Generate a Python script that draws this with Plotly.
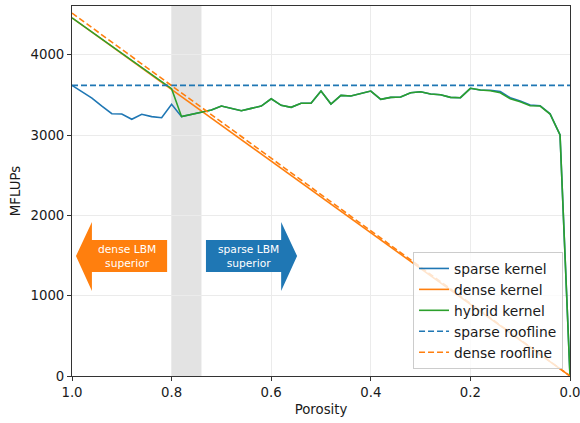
import plotly.graph_objects as go

porosity = [1.00, 0.98, 0.96, 0.94, 0.92, 0.90, 0.88, 0.86, 0.84, 0.82, 0.80,
            0.78, 0.76, 0.74, 0.72, 0.70, 0.68, 0.66, 0.64, 0.62, 0.60,
            0.58, 0.56, 0.54, 0.52, 0.50, 0.48, 0.46, 0.44, 0.42, 0.40,
            0.38, 0.36, 0.34, 0.32, 0.30, 0.28, 0.26, 0.24, 0.22, 0.20,
            0.18, 0.16, 0.14, 0.12, 0.10, 0.08, 0.06, 0.04, 0.02, 0.00]

sparse_kernel = [3620, 3540, 3460, 3360, 3266, 3263, 3197, 3259, 3230, 3217, 3384,
                 3230, 3259, 3292, 3313, 3362, 3333, 3304, 3333, 3362, 3453,
                 3371, 3346, 3396, 3396, 3549, 3387, 3495, 3487, 3520, 3549,
                 3446, 3470, 3474, 3528, 3540, 3512, 3503, 3470, 3466, 3583,
                 3562, 3558, 3542, 3465, 3425, 3375, 3366, 3265, 3001, 0]

dense_kernel = [4460, 4371, 4282, 4192, 4103, 4014, 3925, 3836, 3746, 3657, 3568,
                3479, 3390, 3300, 3211, 3122, 3033, 2944, 2854, 2765, 2676,
                2587, 2498, 2408, 2319, 2230, 2141, 2052, 1962, 1873, 1784,
                1695, 1606, 1516, 1427, 1338, 1249, 1160, 1070, 981, 892,
                803, 714, 624, 535, 446, 357, 268, 178, 89, 0]

hybrid_kernel = [4460, 4371, 4282, 4192, 4103, 4014, 3925, 3836, 3746, 3657, 3578,
                 3230, 3259, 3292, 3313, 3362, 3333, 3304, 3333, 3362, 3453,
                 3371, 3346, 3396, 3396, 3549, 3387, 3495, 3487, 3520, 3549,
                 3446, 3470, 3474, 3528, 3540, 3512, 3503, 3470, 3466, 3583,
                 3562, 3553, 3528, 3453, 3416, 3366, 3362, 3263, 3001, 0]

roofline_x = [1.0, 0.0]
sparse_roofline = [3620, 3620]
dense_roofline = [4520, 0]

band = (0.74, 0.80)
x_ticks = [1.0, 0.8, 0.6, 0.4, 0.2, 0.0]
x_tick_labels = ["1.0", "0.8", "0.6", "0.4", "0.2", "0.0"]
y_ticks = [0, 1000, 2000, 3000, 4000]

BLUE = "#1f77b4"
ORANGE = "#ff7f0e"
GREEN = "#2ca02c"
FS = 13.3

fig = go.Figure()
fig.add_trace(go.Scatter(x=porosity, y=sparse_kernel, mode="lines", name="sparse kernel",
                         line=dict(color=BLUE, width=1.6)))
fig.add_trace(go.Scatter(x=porosity, y=dense_kernel, mode="lines", name="dense kernel",
                         line=dict(color=ORANGE, width=1.6)))
fig.add_trace(go.Scatter(x=porosity, y=hybrid_kernel, mode="lines", name="hybrid kernel",
                         line=dict(color=GREEN, width=1.6)))
fig.add_trace(go.Scatter(x=roofline_x, y=sparse_roofline, mode="lines", name="sparse roofline",
                         line=dict(color=BLUE, width=1.6, dash="6px,3px")))
fig.add_trace(go.Scatter(x=roofline_x, y=dense_roofline, mode="lines", name="dense roofline",
                         line=dict(color=ORANGE, width=1.6, dash="6px,3px")))

# shaded crossover band
fig.add_shape(type="rect", xref="x", yref="paper", x0=band[0], x1=band[1], y0=0, y1=1,
              fillcolor="#e3e3e3", line=dict(width=0), layer="below")

# arrows (data coordinates)
ay_mid, ay_body0, ay_body1, ay_head0, ay_head1 = 1494, 1295, 1694, 1059, 1918
dense_arrow = dict(tip=0.992, base=0.960, end=0.809)
sparse_arrow = dict(tip=0.548, base=0.580, end=0.731)

def arrow_path(a):
    return (f"M {a['end']},{ay_body0} L {a['base']},{ay_body0} L {a['base']},{ay_head0} "
            f"L {a['tip']},{ay_mid} L {a['base']},{ay_head1} L {a['base']},{ay_body1} "
            f"L {a['end']},{ay_body1} Z")

fig.add_shape(type="path", xref="x", yref="y", path=arrow_path(dense_arrow),
              fillcolor=ORANGE, line=dict(width=0))
fig.add_shape(type="path", xref="x", yref="y", path=arrow_path(sparse_arrow),
              fillcolor=BLUE, line=dict(width=0))

fig.add_annotation(x=0.890, y=ay_mid, xref="x", yref="y", text="dense LBM<br>superior",
                   showarrow=False, font=dict(color="white", size=10.7, family="DejaVu Sans"))
fig.add_annotation(x=0.646, y=ay_mid, xref="x", yref="y", text="sparse LBM<br>superior",
                   showarrow=False, font=dict(color="white", size=10.7, family="DejaVu Sans"))

fig.update_layout(
    width=580, height=423,
    margin=dict(l=72, r=10, t=6, b=47, autoexpand=False),
    plot_bgcolor="white", paper_bgcolor="white",
    font=dict(family="DejaVu Sans", size=FS, color="#1a1a1a"),
    showlegend=True,
    legend=dict(x=0.986, y=0.019, xanchor="right", yanchor="bottom",
                bgcolor="rgba(255,255,255,0.8)", bordercolor="#cccccc", borderwidth=1,
                font=dict(size=13.8), itemwidth=30, tracegroupgap=0),
)
fig.update_xaxes(range=[1.0, 0.0], tickvals=x_ticks, ticktext=x_tick_labels,
                 title=dict(text="Porosity", standoff=5, font=dict(size=FS)),
                 tickfont=dict(size=FS), ticklabeloverflow="allow", automargin=False,
                 showline=True, linecolor="#333333", linewidth=1, mirror=True,
                 ticks="outside", ticklen=4, tickcolor="#333333",
                 showgrid=True, gridcolor="#ebebeb", gridwidth=1, zeroline=False)
fig.update_yaxes(range=[0, 4608], tickvals=y_ticks,
                 title=dict(text="MFLUPs", standoff=6, font=dict(size=FS)),
                 tickfont=dict(size=FS), automargin=False,
                 showline=True, linecolor="#333333", linewidth=1, mirror=True,
                 ticks="outside", ticklen=4, tickcolor="#333333",
                 showgrid=True, gridcolor="#ebebeb", gridwidth=1, zeroline=False)

fig.write_html("out.html")
